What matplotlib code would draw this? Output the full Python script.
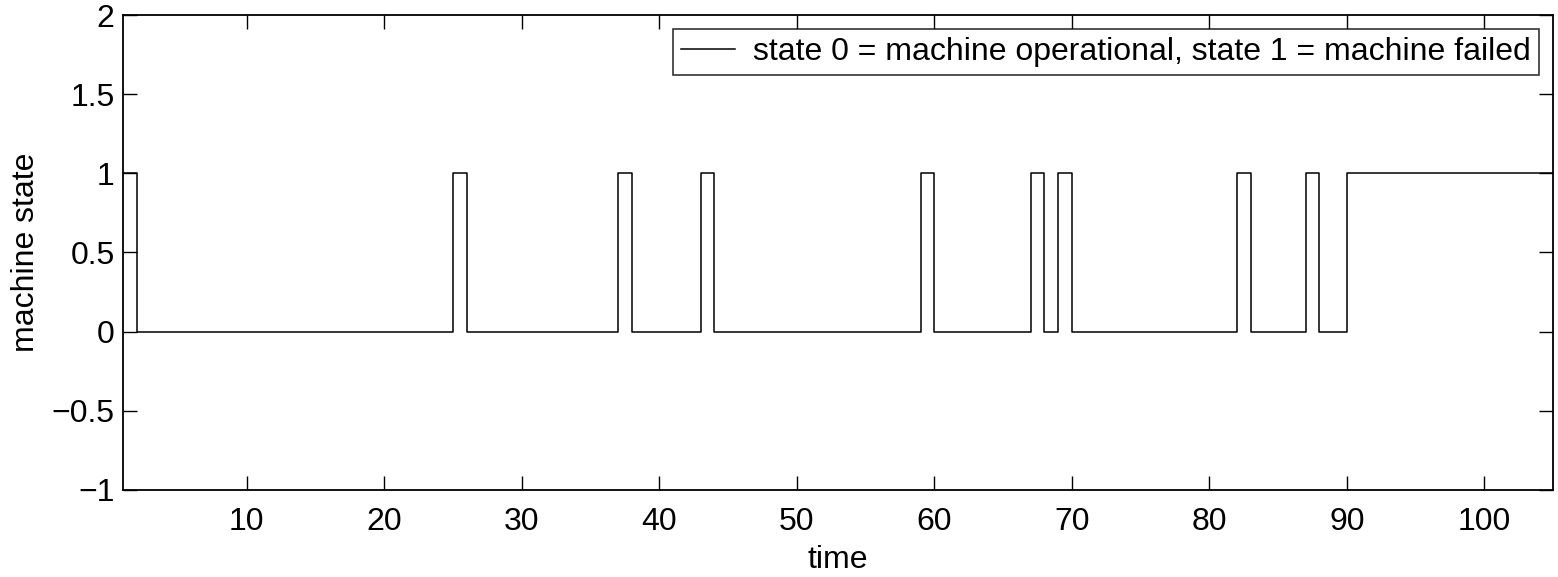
import numpy as np
import matplotlib
matplotlib.use("Agg")
import matplotlib.pyplot as plt

plt.rcParams['font.family'] = ['Liberation Sans', 'DejaVu Sans']

# time steps 1..105 and the machine state at each step
time = np.arange(1, 106)
failed_times = [1, 25, 37, 43, 59, 67, 69, 82, 87] + list(range(90, 106))
state = np.array([1 if t in failed_times else 0 for t in time])

legend_label = "state 0 = machine operational, state 1 = machine failed"
x_ticks = [10, 20, 30, 40, 50, 60, 70, 80, 90, 100]
y_ticks = [-1, -0.5, 0, 0.5, 1, 1.5, 2]
y_tick_labels = ['\u22121', '\u22120.5', '0', '0.5', '1', '1.5', '2']

fig = plt.figure(figsize=(15.58, 5.77), dpi=100)
ax = fig.add_axes([0.079, 0.1508, 0.9178, 0.8232])

ax.step(time, state, where='post', color='black', linewidth=1.1, label=legend_label)

ax.set_xlim(1, 105)
ax.set_ylim(-1, 2)
ax.set_xticks(x_ticks)
ax.set_yticks(y_ticks)
ax.set_yticklabels(y_tick_labels)
ax.tick_params(direction='in', top=True, right=True, length=10, width=1.0,
               labelsize=23)
ax.tick_params(axis='x', pad=12)
ax.tick_params(axis='y', pad=6)
for s in ax.spines.values():
    s.set_linewidth(1.3)

ax.set_xlabel('time', fontsize=23, labelpad=6)
ax.set_ylabel('machine state', fontsize=23, labelpad=8)

leg = ax.legend(loc='upper right', fontsize=23, frameon=True, fancybox=False,
                handlelength=1.7, borderpad=0.25, handletextpad=0.55,
                borderaxespad=0.45)
leg.get_frame().set_edgecolor('black')
leg.get_frame().set_linewidth(1.2)

fig.savefig('out.png', dpi=100)
